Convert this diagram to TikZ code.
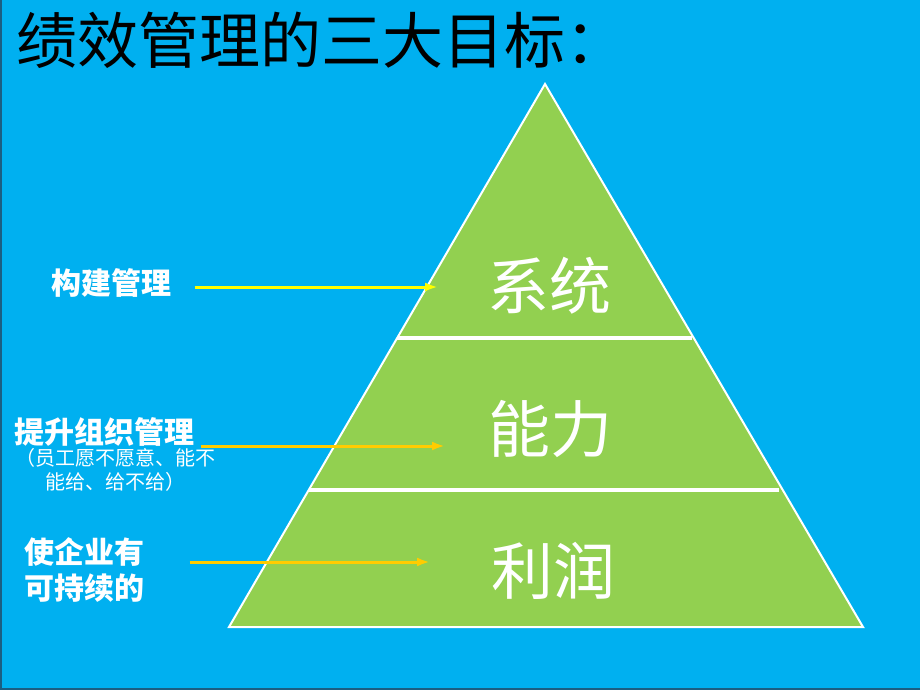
\documentclass[tikz,border=0pt]{standalone}
\usepackage{fontspec}
\newfontfamily\cjk{Noto Sans CJK SC}
\usetikzlibrary{positioning,arrows.meta}
\tikzset{>={Latex[length=13pt,width=9pt]}}
\definecolor{slideblue}{HTML}{00B0F0}
\definecolor{pyrgreen}{HTML}{92D050}
\definecolor{frame}{HTML}{1B5E82}
\definecolor{arryellow}{HTML}{FFFF00}
\definecolor{arrorange}{HTML}{FFCC00}
\tikzset{
  tier/.style={text=white, font=\cjk\fontsize{62}{64}\selectfont},
  lbl/.style={text=white, font=\cjk\bfseries\fontsize{30}{36}\selectfont, align=center},
  note/.style={text=white, font=\cjk\fontsize{20}{24}\selectfont, align=center},
  arr/.style={->, line width=3pt}
}

\begin{document}
\begin{tikzpicture}[x=1pt, y=-1pt]
  \useasboundingbox (0,0) rectangle (920,690);
  % slide background
  \fill[slideblue] (0,0) rectangle (920,690);
  \draw[frame, line width=2pt] (1,0) -- (1,689) -- (920,689);
  % title
  \node[anchor=west, font=\cjk\fontsize{61}{64}\selectfont] (title) at (13,40) {绩效管理的三大目标：};
  % pyramid
  \coordinate (top) at (545,84);
  \coordinate (bl) at (229,627);
  \coordinate (br) at (863,627);
  \draw[white, line width=2pt, fill=pyrgreen] (top) -- (br) -- (bl) -- cycle;
  \draw[white, line width=3.5pt] (397,338) -- (692,338);
  \draw[white, line width=3.5pt] (309,490) -- (779,490);
  \node[tier] (sys) at (549,286) {系统};
  \node[tier] (cap) at (550,429) {能力};
  \node[tier] (prof) at (553,571) {利润};
  % labels on the left
  \node[lbl] (build) at (111,283) {构建管理};
  \node[lbl] (raise) at (104,432) {提升组织管理};
  \node[note, below=-5pt of raise, xshift=11pt] (raisenote) {（员工愿不愿意、能不\\能给、给不给）};
  \node[lbl] (keep) at (84,570) {使企业有\\可持续的};
  % arrows
  \coordinate (buildend) at (438,287);
  \coordinate (raiseend) at (445,446);
  \coordinate (keepend) at (430,562);
  \draw[arr, arryellow] (build.east |- buildend) ++(20,0) -- (buildend);
  \draw[arr, arrorange] (raise.east |- raiseend) ++(3,0) -- (raiseend);
  \draw[arr, arrorange] (keep.east |- keepend) ++(42,0) -- (keepend);
\end{tikzpicture}
\end{document}
